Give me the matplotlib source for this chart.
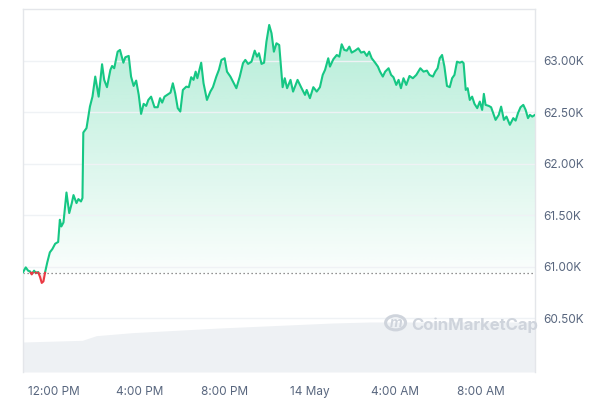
"""BTC 24h price chart, CoinMarketCap style."""

import matplotlib

matplotlib.use("Agg")
import matplotlib.pyplot as plt
import numpy as np
from matplotlib.patches import Circle

# hours relative to 13 May 12:00 PM
hours = [
    -1.46, -1.33, -1.22, -1.13, -1.05, -0.94, -0.86, -0.75, -0.66, -0.58,
    -0.50, -0.42, -0.32, -0.20, -0.08, 0.05, 0.19, 0.27, 0.34, 0.44,
    0.58, 0.71, 0.83, 0.91, 1.05, 1.14, 1.26, 1.33, 1.37, 1.52,
    1.68, 1.80, 1.93, 2.09, 2.25, 2.35, 2.48, 2.64, 2.72, 2.82,
    2.98, 3.09, 3.25, 3.34, 3.50, 3.61, 3.73, 3.85, 3.97, 4.08,
    4.20, 4.32, 4.42, 4.55, 4.71, 4.86, 4.97, 5.07, 5.18, 5.30,
    5.46, 5.57, 5.68, 5.80, 5.92, 6.04, 6.20, 6.32, 6.43, 6.54,
    6.64, 6.72, 6.90, 7.01, 7.17, 7.33, 7.45, 7.61, 7.73, 7.85,
    8.00, 8.11, 8.27, 8.39, 8.55, 8.71, 8.86, 8.97, 9.10, 9.26,
    9.41, 9.52, 9.61, 9.73, 9.85, 9.96, 10.09, 10.20, 10.31, 10.43,
    10.56, 10.72, 10.82, 10.93, 11.09, 11.21, 11.42, 11.61, 11.77, 11.85,
    12.00, 12.16, 12.32, 12.47, 12.60, 12.71, 12.86, 12.94, 13.10, 13.26,
    13.38, 13.49, 13.61, 13.73, 13.85, 13.96, 14.12, 14.27, 14.40, 14.54,
    14.67, 14.78, 14.90, 15.06, 15.19, 15.29, 15.42, 15.53, 15.69, 15.81,
    15.92, 16.05, 16.16, 16.27, 16.39, 16.52, 16.67, 16.83, 16.99, 17.18,
    17.33, 17.49, 17.61, 17.77, 17.88, 17.99, 18.09, 18.20, 18.31, 18.43,
    18.56, 18.67, 18.78, 18.90, 19.03, 19.14, 19.21, 19.31, 19.40, 19.50,
    19.61, 19.72, 19.85, 19.97, 20.08, 20.16, 20.24, 20.39, 20.50, 20.71,
    20.86, 20.97, 21.10, 21.22, 21.38, 21.54, 21.65, 21.76, 21.88, 22.01,
    22.12, 22.23, 22.32, 22.43, 22.56,
]
price = [
    60945, 60993, 60961, 60954, 60925, 60961, 60939, 60948, 60900, 60842,
    60857, 60948, 61042, 61139, 61172, 61223, 61240, 61456, 61391, 61430,
    61721, 61521, 61618, 61696, 61618, 61657, 61634, 61667, 62304, 62347,
    62556, 62653, 62848, 62653, 62968, 62816, 62745, 62913, 62951, 62929,
    63090, 63107, 62983, 63036, 63049, 62848, 62757, 62809, 62670, 62485,
    62583, 62563, 62621, 62653, 62550, 62550, 62638, 62595, 62653, 62670,
    62692, 62783, 62686, 62541, 62508, 62718, 62750, 62745, 62842, 62816,
    62896, 62832, 62983, 62783, 62621, 62702, 62745, 62848, 62913, 63010,
    63026, 62896, 62848, 62799, 62735, 62848, 62978, 63010, 62971, 62993,
    63100, 63042, 63075, 62971, 62983, 63187, 63350, 63269, 63090, 63172,
    63155, 62745, 62832, 62735, 62816, 62702, 62816, 62735, 62670, 62718,
    62638, 62745, 62702, 62745, 62864, 62913, 63026, 62945, 63017, 63058,
    63042, 63162, 63107, 63100, 63139, 63081, 63100, 63123, 63081, 63090,
    63049, 63090, 63026, 62983, 62945, 62896, 62848, 62896, 62929, 62864,
    62842, 62767, 62816, 62735, 62832, 62767, 62854, 62832, 62864, 62929,
    62896, 62906, 62864, 62848, 62896, 62929, 63026, 63058, 62945, 62757,
    62745, 62832, 62864, 62993, 62983, 62993, 62978, 62718, 62735, 62621,
    62653, 62583, 62541, 62605, 62524, 62680, 62573, 62563, 62550, 62427,
    62476, 62556, 62427, 62459, 62379, 62444, 62420, 62492, 62550, 62573,
    62524, 62444, 62476, 62459, 62476,
]
open_price = 60940

# rolling 24h volume, billions USD
vol_hours = [-1.46, 1.32, 1.98, 3.67, 7.76, 13.08, 14.82, 22.59]
vol_values = [18.0, 19.0, 21.8, 23.6, 26.4, 29.4, 30.0, 30.0]

tick_hours = [0, 4, 8, 12, 16, 20]
tick_labels = ["12:00 PM", "4:00 PM", "8:00 PM", "14 May", "4:00 AM", "8:00 AM"]
price_ticks = [60500, 61000, 61500, 62000, 62500, 63000]

GREEN = "#16c784"
RED = "#ea3943"
TEXT = "#58667e"
GRID = "#eff2f5"

plt.rcParams["font.family"] = ["Inter", "DejaVu Sans"]

t = np.array(hours)
p = np.array(price, dtype=float)

fig = plt.figure(figsize=(6, 4), dpi=100)
ax = fig.add_axes([0.0383, 0.07, 0.8534, 0.9075])
x_lo, x_hi = t[0], t[-1]
y_lo, y_hi = 59976, 63505
ax.set_xlim(x_lo, x_hi)
ax.set_ylim(y_lo, y_hi)

# volume on its own scale along the bottom
vax = ax.twinx()
vax.fill_between(vol_hours, vol_values, 0, color="#eef1f4", lw=0, zorder=0)
vax.set_ylim(0, 30.0 * 363 / 50)
vax.set_axis_off()
ax.set_zorder(vax.get_zorder() + 1)
ax.patch.set_visible(False)

# insert crossing points so the colour switches exactly at the open price
tt, pp = [t[0]], [p[0]]
for i in range(1, len(t)):
    a, b = p[i - 1] - open_price, p[i] - open_price
    if a * b < 0:
        f = a / (a - b)
        tt.append(t[i - 1] + f * (t[i] - t[i - 1]))
        pp.append(open_price)
    tt.append(t[i])
    pp.append(p[i])
tt, pp = np.array(tt), np.array(pp)

# gradient fills clipped to the area between the line and the open price
up = ax.fill_between(tt, np.maximum(pp, open_price), open_price, color="none", lw=0)
grad = np.zeros((256, 1, 4))
grad[..., :3] = matplotlib.colors.to_rgb(GREEN)
grad[:, 0, 3] = np.linspace(0.32, 0.02, 256)
img = ax.imshow(grad, extent=[x_lo, x_hi, open_price, max(price)], aspect="auto",
                origin="upper", zorder=1)
img.set_clip_path(up.get_paths()[0], transform=ax.transData)

down = ax.fill_between(tt, np.minimum(pp, open_price), open_price, color="none", lw=0)
rgrad = np.zeros((64, 1, 4))
rgrad[..., :3] = matplotlib.colors.to_rgb(RED)
rgrad[:, 0, 3] = np.linspace(0.02, 0.25, 64)
rimg = ax.imshow(rgrad, extent=[x_lo, x_hi, min(price), open_price], aspect="auto",
                 origin="upper", zorder=1)
rimg.set_clip_path(down.get_paths()[0], transform=ax.transData)
ax.set_xlim(x_lo, x_hi)
ax.set_ylim(y_lo, y_hi)

above = np.ma.masked_where(pp < open_price, pp)
below = np.ma.masked_where(pp > open_price, pp)
ax.plot(tt, above, color=GREEN, lw=1.5, zorder=3, solid_joinstyle="round")
ax.plot(tt, below, color=RED, lw=1.5, zorder=3, solid_joinstyle="round")

ax.axhline(open_price, color="#6f6f6f", lw=0.9, ls=(0, (1, 2.2)), zorder=2)

ax.set_yticks(price_ticks)
ax.set_yticklabels([f"{v / 1000:.2f}K" for v in price_ticks])
ax.yaxis.tick_right()
ax.set_xticks(tick_hours)
ax.set_xticklabels(tick_labels)
ax.tick_params(length=0, labelsize=8.5, labelcolor=TEXT)
ax.tick_params(axis="y", pad=6)
ax.tick_params(axis="x", pad=10)
ax.grid(True, axis="y", color=GRID, lw=1, zorder=0)

for side in ["top", "left", "right"]:
    ax.spines[side].set_color("#e4e6ea")
    ax.spines[side].set_linewidth(1)
ax.spines["bottom"].set_visible(False)

# watermark
wm = "#cfd4dc"
ax.add_patch(Circle((0.7277, 0.1355), 0.0195, transform=ax.transAxes,
                    fill=False, ec=wm, lw=2.2, zorder=4))
ax.text(0.7277, 0.1345, "m", transform=ax.transAxes, ha="center", va="center",
        fontsize=10, color=wm, fontweight="bold", fontstyle="italic", zorder=4)
ax.text(0.758, 0.128, "CoinMarketCap", transform=ax.transAxes, ha="left",
        va="center", fontsize=12, color=wm, fontweight="bold", zorder=4)

fig.savefig("out.png", dpi=100)
plt.close(fig)
